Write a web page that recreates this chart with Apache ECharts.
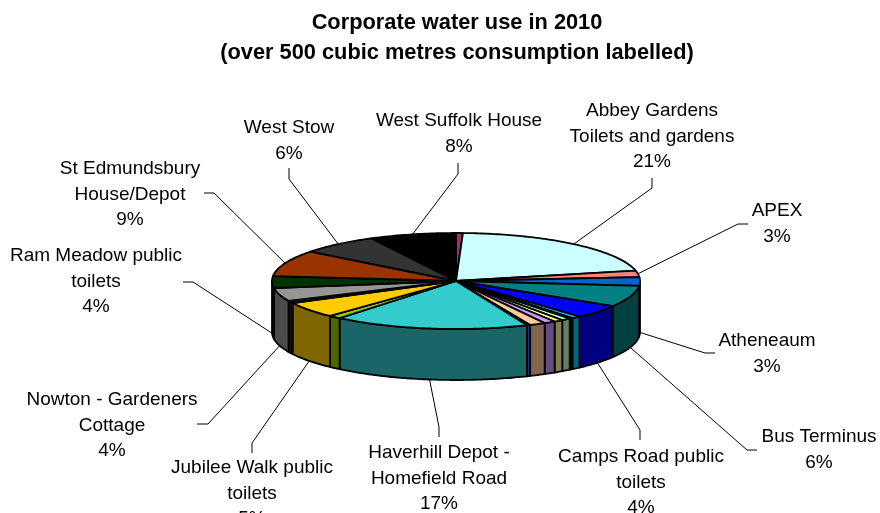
<!DOCTYPE html>
<html>
<head>
<meta charset="utf-8">
<style>html,body{margin:0;padding:0;background:#fff}#c{width:880px;height:513px}</style>
<script src="https://cdn.jsdelivr.net/npm/echarts@6/dist/echarts.min.js"></script>
</head>
<body>
<div id="c"></div>
<script>
// Share of consumption per site, clockwise from 12 o'clock
var values = [0.6, 20.9, 2.2, 2.9, 7.2, 4.5, 0.8, 0.3, 0.8, 0.8, 1.0, 1.4, 0.3, 17.2, 1.1, 5.4, 0.8, 4.4, 4.0, 8.9, 6.9, 7.6];
var colors = ['#993366', '#CCFFFF', '#FF8080', '#0066CC', '#008080', '#0000FF', '#00CCFF', '#003333', '#CCFFCC', '#FFFF99', '#CC99FF', '#FFCC99', '#3366FF', '#33CCCC', '#99CC00', '#FFCC00', '#332200', '#969696', '#003300', '#993300', '#333333', '#000000'];
var names = ['', 'Abbey Gardens\nToilets and gardens', 'APEX', 'Atheneaum', 'Bus Terminus', 'Camps Road public\ntoilets', '', '', '', '', '', '', '', 'Haverhill Depot -\nHomefield Road', '', 'Jubilee Walk public\ntoilets', '', 'Nowton - Gardeners\nCottage', 'Ram Meadow public\ntoilets', 'St Edmundsbury\nHouse/Depot', 'West Stow', 'West Suffolk House'];
var percentLabels = ['', '21%', '3%', '3%', '6%', '4%', '', '', '', '', '', '', '', '17%', '', '5%', '', '4%', '4%', '9%', '6%', '8%'];

// Layout only: label centre x / first-line centre y, and leader line start + elbow
var labelPos = {1:[652,111],2:[777,211],3:[767,341],4:[819,437],5:[641,457],13:[439,453],15:[252,468],17:[112,400],18:[96,256],19:[130,169],20:[289,128],21:[459,121]};
var leaderPts = {1:[[652,178],[652,188]],2:[[748,224],[738,224]],3:[[715,353],[705,353]],4:[[757,450],[747,450]],5:[[640,440],[640,430]],13:[[439,437],[439,427]],15:[[252,453],[252,443]],17:[[197,424],[208,424]],18:[[183,282],[193,282]],19:[[204,193],[214,193]],20:[[289,168],[289,179]],21:[[458,163],[458,174]]};
var cx = 456, cy = 281, rx = 184, ry = 48, depth = 51;

var total = values.reduce(function (s, v) { return s + v; }, 0);
var starts = [], acc = 0;
values.forEach(function (v) { starts.push(acc / total * 360); acc += v; });
function pt(t, dy) {
  var r = t * Math.PI / 180;
  return [cx + rx * Math.sin(r), cy - ry * Math.cos(r) + (dy || 0)];
}
function arc(a, b, dy) {
  var out = [], n = Math.max(2, Math.ceil((b - a) / 1));
  for (var i = 0; i <= n; i++) out.push(pt(a + (b - a) * i / n, dy));
  return out;
}
function darken(hex) {
  var n = parseInt(hex.slice(1), 16);
  return 'rgb(' + [(n >> 16) & 255, (n >> 8) & 255, n & 255].map(function (c) { return Math.round(c / 2); }).join(',') + ')';
}
var edge = { stroke: '#000', lineWidth: 1.8, lineJoin: 'round' };

function renderSide(p) {
  var i = p.dataIndex, a = Math.max(starts[i], 90), b = Math.min(starts[i] + values[i] / total * 360, 270);
  if (b <= a) return null;
  var pts = arc(a, b, 0).concat(arc(a, b, depth).reverse());
  return { type: 'polygon', shape: { points: pts }, style: Object.assign({ fill: darken(colors[i]) }, edge) };
}
function renderTop(p) {
  var i = p.dataIndex, a = starts[i], b = a + values[i] / total * 360;
  return { type: 'polygon', shape: { points: [[cx, cy]].concat(arc(a, b, 0)) }, style: Object.assign({ fill: colors[i] }, edge) };
}
function renderLabel(p) {
  var i = p.dataIndex;
  if (!names[i]) return null;
  var mid = starts[i] + values[i] / total * 360 / 2;
  var end = pt(mid, (mid > 90 && mid < 270) ? depth : 0);
  var pos = labelPos[i], lp = leaderPts[i];
  return { type: 'group', children: [
    { type: 'polyline', shape: { points: [lp[0], lp[1], end] }, style: { stroke: '#000', lineWidth: 1, fill: null } },
    { type: 'text', style: { x: pos[0], y: pos[1] - 12.7, text: names[i] + '\n' + percentLabels[i], align: 'center', verticalAlign: 'top', lineHeight: 25.4, fontFamily: 'Liberation Sans', fontSize: 19, fill: '#000' } }
  ] };
}

var chart = echarts.init(document.getElementById('c'), null, { renderer: 'canvas' });
chart.setOption({
  animation: false,
  backgroundColor: '#fff',
  title: {
    text: 'Corporate water use in 2010\n(over 500 cubic metres consumption labelled)',
    left: 452, top: 3, textAlign: 'center',
    textStyle: { fontFamily: 'Liberation Sans', fontSize: 21.8, fontWeight: 'bold', color: '#000', lineHeight: 30 }
  },
  series: [
    { type: 'custom', coordinateSystem: 'none', renderItem: renderSide, data: values, z: 2, silent: true },
    { type: 'custom', coordinateSystem: 'none', renderItem: renderTop, data: values, z: 3, silent: true },
    { type: 'custom', coordinateSystem: 'none', renderItem: renderLabel, data: values, z: 4, silent: true }
  ]
});
</script>
</body>
</html>
